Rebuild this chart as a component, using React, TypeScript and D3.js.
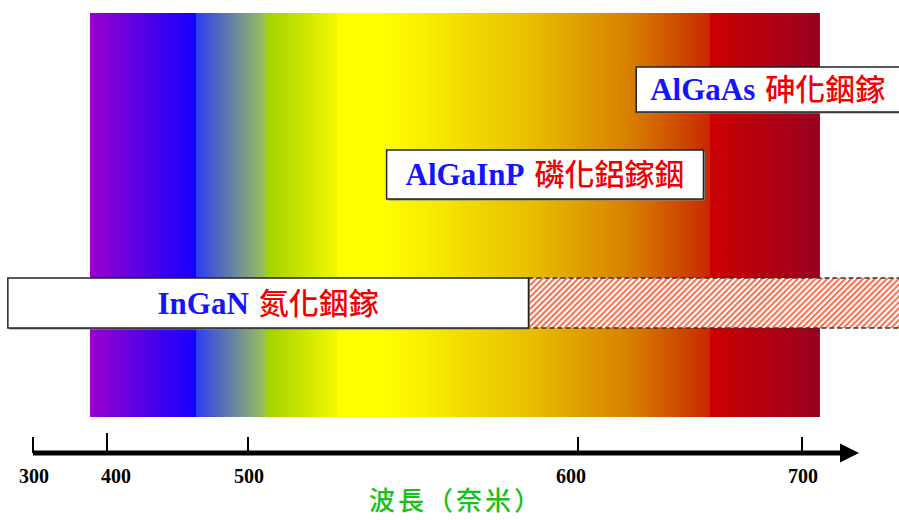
import React from "react";
import * as d3 from "d3";

// Axis: tick values and their (non-linear) positions on the original slide
const tickValues = [300, 400, 500, 600, 700];
const tickLabels = ["300", "400", "500", "600", "700"];
const axisTitle = "波長（奈米）";

// Visible spectrum gradient stops: [wavelength nm, colour]
const spectrumStart = 377;
const spectrumEnd = 708;
const spectrumStops: [number, string][] = [
  [377, "#9a00cc"],
  [463, "#1400ff"],
  [463, "#2c3cf4"],
  [505, "#98c05c"],
  [505, "#a0d000"],
  [527, "#f2f800"],
  [527, "#ffff00"],
  [541, "#ffff00"],
  [585, "#e8c000"],
  [623, "#d88000"],
  [659, "#c82800"],
  [659, "#cc0000"],
  [708, "#990022"],
];

// Material ranges (nm)
const materials = ["AlGaAs", "AlGaInP", "InGaN"];
const materialNames = ["砷化銦鎵", "磷化鋁鎵銦", "氮化銦鎵"];
const rangeStart = [626, 542, 266];
const rangeEnd = [760, 656, 585];
const extendedStart = [null, null, 585];
const extendedEnd = [null, null, 760];

const W = 899;
const H = 520;

export default function App() {
  // piecewise linear scale matching the slide's uneven axis
  const x = d3
    .scaleLinear()
    .domain(tickValues)
    .range([33, 107, 248, 578, 802]);

  const specTop = 13;
  const specBottom = 417;
  const gx1 = x(spectrumStart);
  const gx2 = x(spectrumEnd);

  const rowY = [67, 150, 278];
  const rowH = [45, 49, 50];

  const axisY = 453;
  const latin = "'Liberation Serif', 'Times New Roman', serif";
  const cjk = "'Noto Sans CJK TC', 'Noto Sans CJK SC', sans-serif";

  return (
    <svg
      width={W}
      height={H}
      style={{ position: "absolute", left: 0, top: 0, background: "#fff" }}
    >
      <defs>
        <linearGradient
          id="spec"
          gradientUnits="userSpaceOnUse"
          x1={gx1}
          x2={gx2}
          y1={0}
          y2={0}
        >
          {spectrumStops.map(([w, c], i) => (
            <stop key={i} offset={(x(w) - gx1) / (gx2 - gx1)} stopColor={c} />
          ))}
        </linearGradient>
        <pattern
          id="hatch"
          patternUnits="userSpaceOnUse"
          width={4.2}
          height={4.2}
          patternTransform="rotate(45)"
        >
          <rect width={4.2} height={4.2} fill="#ffffff" />
          <rect width={2} height={4.2} fill="#ff6a48" />
        </pattern>
      </defs>

      <rect
        x={gx1}
        y={specTop}
        width={gx2 - gx1}
        height={specBottom - specTop}
        fill="url(#spec)"
      />

      {materials.map((m, i) => {
        const x0 = x(rangeStart[i]);
        const x1 = x(rangeEnd[i]);
        const y0 = rowY[i];
        const h = rowH[i];
        const es = extendedStart[i];
        const ee = extendedEnd[i];
        const cx = (x0 + Math.min(x1, W)) / 2;
        const anchor = x1 > W ? "start" : "middle";
        const tx = x1 > W ? x0 + 14 : cx;
        return (
          <g key={m}>
            {es != null && ee != null && (
              <rect
                x={x(es)}
                y={y0}
                width={x(ee) - x(es)}
                height={h}
                fill="url(#hatch)"
                stroke="#333"
                strokeWidth={1.5}
                strokeDasharray="5,3"
              />
            )}
            <rect
              x={x0 + 1.5}
              y={y0 + 1.5}
              width={x1 - x0}
              height={h}
              fill="#888"
            />
            <rect
              x={x0}
              y={y0}
              width={x1 - x0}
              height={h}
              fill="#ffffff"
              stroke="#222"
              strokeWidth={1.5}
            />
            <text
              x={tx}
              y={y0 + h / 2 + 10.5}
              textAnchor={anchor}
              style={{ fontSize: 31 }}
            >
              <tspan
                fill="#1414ff"
                style={{ fontFamily: latin, fontWeight: 700 }}
              >
                {m}
              </tspan>
              <tspan
                fill="#f00000"
                dx={10}
                style={{ fontFamily: cjk, fontWeight: 500, fontSize: 30 }}
              >
                {materialNames[i]}
              </tspan>
            </text>
          </g>
        );
      })}

      {/* axis */}
      <line
        x1={x(300)}
        x2={842}
        y1={axisY}
        y2={axisY}
        stroke="#000"
        strokeWidth={5}
      />
      <polygon
        points={`840,${axisY - 9.5} 859,${axisY} 840,${axisY + 9.5}`}
        fill="#000"
      />
      {tickValues.map((t, i) => (
        <g key={t}>
          <line
            x1={x(t)}
            x2={x(t)}
            y1={t === 400 ? axisY - 20 : axisY - 16}
            y2={axisY}
            stroke="#000"
            strokeWidth={2}
          />
          <text
            x={x(t) + (t === 400 ? 9 : t === 600 ? -7 : 1)}
            y={483}
            textAnchor="middle"
            style={{ fontFamily: latin, fontWeight: 700, fontSize: 20 }}
            fill="#000"
          >
            {tickLabels[i]}
          </text>
        </g>
      ))}
      <text
        x={456}
        y={510}
        textAnchor="middle"
        fill="#18c018"
        style={{ fontFamily: cjk, fontWeight: 500, fontSize: 26, letterSpacing: 3 }}
      >
        {axisTitle}
      </text>
    </svg>
  );
}
